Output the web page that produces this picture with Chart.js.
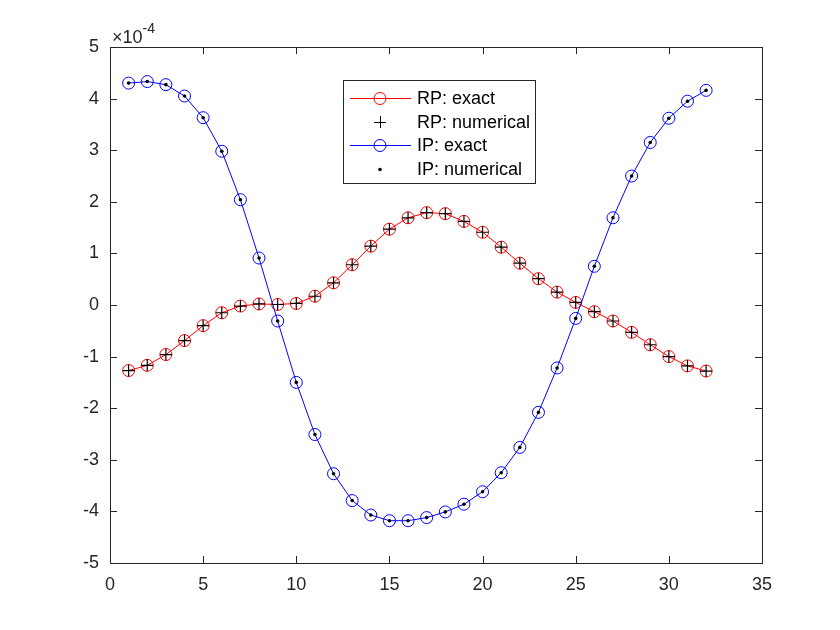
<!DOCTYPE html>
<html><head><meta charset="utf-8">
<script src="https://cdn.jsdelivr.net/npm/chart.js@4"></script>
<style>html,body{margin:0;padding:0;background:#fff}#wrap{width:840px;height:630px}</style>
</head><body><div id="wrap"><canvas id="c" width="840" height="630"></canvas></div>
<script>
const xIndex = [1,2,3,4,5,6,7,8,9,10,11,12,13,14,15,16,17,18,19,20,21,22,23,24,25,26,27,28,29,30,31,32];
// values in units of 1e-4
const rpExact = [-1.27,-1.17,-0.96,-0.69,-0.40,-0.15,-0.02,0.02,0.01,0.03,0.17,0.43,0.78,1.14,1.47,1.69,1.79,1.77,1.62,1.41,1.12,0.81,0.51,0.25,0.05,-0.13,-0.31,-0.53,-0.77,-1.00,-1.18,-1.28];
const rpNumerical = rpExact.slice();
const ipExact = [4.30,4.33,4.27,4.05,3.63,2.98,2.04,0.91,-0.31,-1.50,-2.51,-3.27,-3.79,-4.07,-4.18,-4.18,-4.12,-4.01,-3.86,-3.62,-3.25,-2.76,-2.08,-1.22,-0.26,0.75,1.69,2.50,3.15,3.62,3.95,4.16];
const ipNumerical = ipExact.slice();
const xTicks = [0,5,10,15,20,25,30,35];
const yTicks = [-5,-4,-3,-2,-1,0,1,2,3,4,5];
const legendLabels = ['RP: exact','RP: numerical','IP: exact','IP: numerical'];
const exponentLabel = '-4';

const toPts = (ys) => xIndex.map((x,i)=>({x:x,y:ys[i]}));
const FONT = "'Liberation Sans', Arial, sans-serif";
const TXT = '#262626';

const frame = {
  id:'frame',
  afterDraw(chart){
    const {ctx, chartArea:a, scales:{x,y}} = chart;
    ctx.save();
    ctx.strokeStyle = TXT; ctx.lineWidth = 1;
    ctx.strokeRect(Math.round(a.left)+0.5, Math.round(a.top)+0.5, Math.round(a.right-a.left), Math.round(a.bottom-a.top));
    const L = 7;
    ctx.beginPath();
    xTicks.forEach(v=>{const px=Math.round(x.getPixelForValue(v))+0.5;
      ctx.moveTo(px,a.bottom); ctx.lineTo(px,a.bottom-L);
      ctx.moveTo(px,a.top); ctx.lineTo(px,a.top+L);});
    yTicks.forEach(v=>{const py=Math.round(y.getPixelForValue(v))+0.5;
      ctx.moveTo(a.left,py); ctx.lineTo(a.left+L,py);
      ctx.moveTo(a.right,py); ctx.lineTo(a.right-L,py);});
    ctx.stroke();
    // exponent label
    ctx.fillStyle = TXT; ctx.textBaseline='alphabetic'; ctx.textAlign='left';
    ctx.font = '18px '+FONT;
    ctx.fillText('\u00d710', a.left+2, a.top-4);
    const w = ctx.measureText('\u00d710').width;
    ctx.font = '14px '+FONT;
    ctx.fillText(exponentLabel, a.left+2+w, a.top-14);
    // legend
    const bx=343, by=80, bw=192, bh=103;
    ctx.fillStyle='#fff'; ctx.fillRect(bx,by,bw,bh);
    ctx.strokeStyle=TXT; ctx.strokeRect(bx+0.5,by+0.5,bw,bh);
    const rows=[98,122,145,169];
    const ds = chart.data.datasets;
    rows.forEach((ry,i)=>{
      const d = ds[i];
      if(d.showLine){ctx.strokeStyle=d.borderColor;ctx.lineWidth=1;ctx.beginPath();ctx.moveTo(350,ry+0.5);ctx.lineTo(411,ry+0.5);ctx.stroke();}
      const cx=380;
      if(d.pointStyle==='circle' && d.pointRadius>3){ctx.strokeStyle=d.pointBorderColor;ctx.beginPath();ctx.arc(cx,ry+0.5,6,0,Math.PI*2);ctx.stroke();}
      else if(d.pointStyle==='cross'){ctx.strokeStyle='#000';ctx.beginPath();ctx.moveTo(cx-6,ry+0.5);ctx.lineTo(cx+6,ry+0.5);ctx.moveTo(cx+0.5,ry-6);ctx.lineTo(cx+0.5,ry+6);ctx.stroke();}
      else {ctx.fillStyle='#000';ctx.beginPath();ctx.arc(cx,ry+0.5,1.8,0,Math.PI*2);ctx.fill();}
      ctx.fillStyle='#000'; ctx.font='18px '+FONT; ctx.textBaseline='middle';
      ctx.fillText(legendLabels[i], 417, ry+1);
    });
    ctx.restore();
  }
};

new Chart(document.getElementById('c'), {
  type:'scatter',
  data:{datasets:[
    {label:legendLabels[0], data:toPts(rpExact), showLine:true, borderColor:'#ff0000', borderWidth:1, pointStyle:'circle', pointRadius:6, pointBorderColor:'#ff0000', pointBackgroundColor:'rgba(0,0,0,0)', pointBorderWidth:1, order:4},
    {label:legendLabels[1], data:toPts(rpNumerical), showLine:false, pointStyle:'cross', pointRadius:6, pointBorderColor:'#000', pointBorderWidth:1.2, borderColor:'#000', order:2},
    {label:legendLabels[2], data:toPts(ipExact), showLine:true, borderColor:'#0000ff', borderWidth:1, pointStyle:'circle', pointRadius:6, pointBorderColor:'#0000ff', pointBackgroundColor:'rgba(0,0,0,0)', pointBorderWidth:1, order:3},
    {label:legendLabels[3], data:toPts(ipNumerical), showLine:false, pointStyle:'circle', pointRadius:1.8, pointBorderWidth:0, pointBackgroundColor:'#000', pointBorderColor:'#000', order:1}
  ]},
  options:{
    responsive:false, animation:false, devicePixelRatio:1,
    layout:{padding:{left:0,top:47,right:78,bottom:0}},
    plugins:{legend:{display:false}, tooltip:{enabled:false}},
    scales:{
      x:{type:'linear', min:0, max:35, grid:{display:false}, border:{display:false},
        afterFit(s){s.height=67;},
        afterBuildTicks(s){s.ticks=xTicks.map(v=>({value:v}));},
        ticks:{color:TXT, font:{family:FONT,size:18}, padding:3, maxRotation:0}},
      y:{type:'linear', min:-5, max:5, grid:{display:false}, border:{display:false},
        afterFit(s){s.width=110;},
        afterBuildTicks(s){s.ticks=yTicks.map(v=>({value:v}));},
        ticks:{color:TXT, font:{family:FONT,size:18}, padding:3}}
    }
  },
  plugins:[frame]
});
</script></body></html>
